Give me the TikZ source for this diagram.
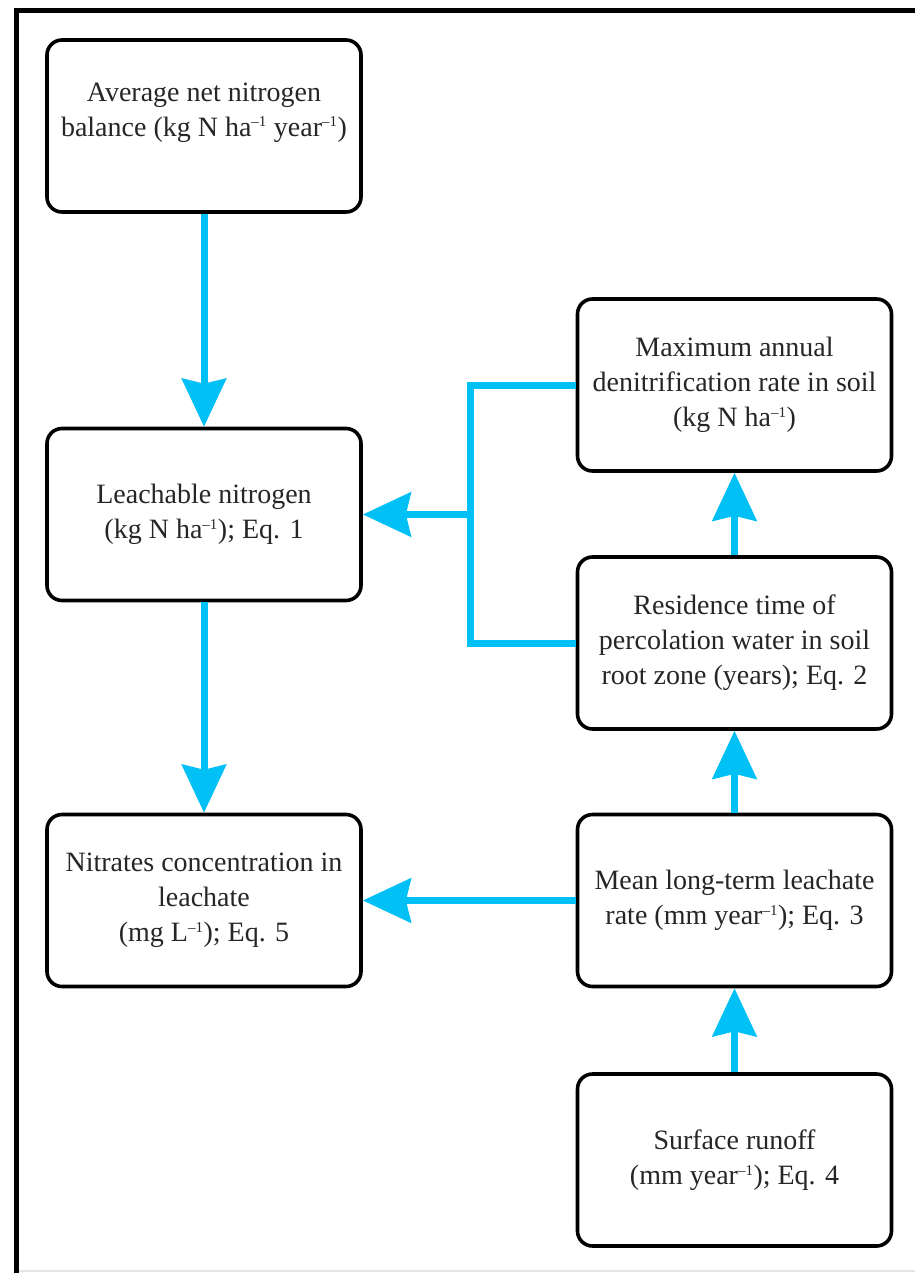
\documentclass[tikz,border=0pt]{standalone}
\usepackage{fontspec}
\setmainfont{Liberation Serif}
\usetikzlibrary{arrows.meta}
\definecolor{flowc}{RGB}{0,192,245}
\newcommand{\inv}{\textsuperscript{\fontsize{15}{15}\selectfont --1}}
\begin{document}
\begin{tikzpicture}[x=1pt,y=-1pt,
  box/.style={draw, line width=3.6pt, rounded corners=15pt, minimum width=314pt, minimum height=172pt,
    align=center, inner sep=0pt, text=black!85, font=\fontsize{28}{35}\selectfont},
  flowline/.style={draw=flowc, line width=7pt},
  flow/.style={flowline, -{Stealth[length=48pt,width=44pt,inset=5pt]}}]
\useasboundingbox[fill=white] (0,0) rectangle (915,1273);
% frame
\draw[line width=5pt] (16.5,1273) -- (16.5,10.5) -- (915,10.5);
\draw[gray!20, line width=1.5pt] (19,1271) -- (915,1271);
% boxes
\node[box] (avg) at (204,126) {Average net nitrogen\\balance (kg N ha\inv{} year\inv)\\[-12pt]\strut};
\node[box] (leach) at (204,514.5) {Leachable nitrogen\\(kg N ha\inv); Eq. 1};
\node[box] (nitr) at (204,900.5) {Nitrates concentration in\\leachate\\(mg L\inv); Eq. 5};
\node[box] (maxd) at (734.5,385) {Maximum annual\\denitrification rate in soil\\(kg N ha\inv)};
\node[box] (res) at (734.5,643) {Residence time of\\percolation water in soil\\root zone (years); Eq. 2};
\node[box] (mean) at (734.5,900.5) {Mean long-term leachate\\rate (mm year\inv); Eq. 3};
\node[box] (surf) at (734.5,1160) {Surface runoff\\(mm year\inv); Eq. 4};
% connectors
\coordinate (j) at (470,514.5);
\draw[flow] (avg.south) -- (leach.north);
\draw[flow] (leach.south) -- (nitr.north);
\draw[flowline] (maxd.west) -| (j) |- (res.west);
\draw[flow] (j) -- (leach.east);
\draw[flow] (res.north) -- (maxd.south);
\draw[flow] (mean.north) -- (res.south);
\draw[flow] (surf.north) -- (mean.south);
\draw[flow] (mean.west) -- (nitr.east);
\end{tikzpicture}
\end{document}
